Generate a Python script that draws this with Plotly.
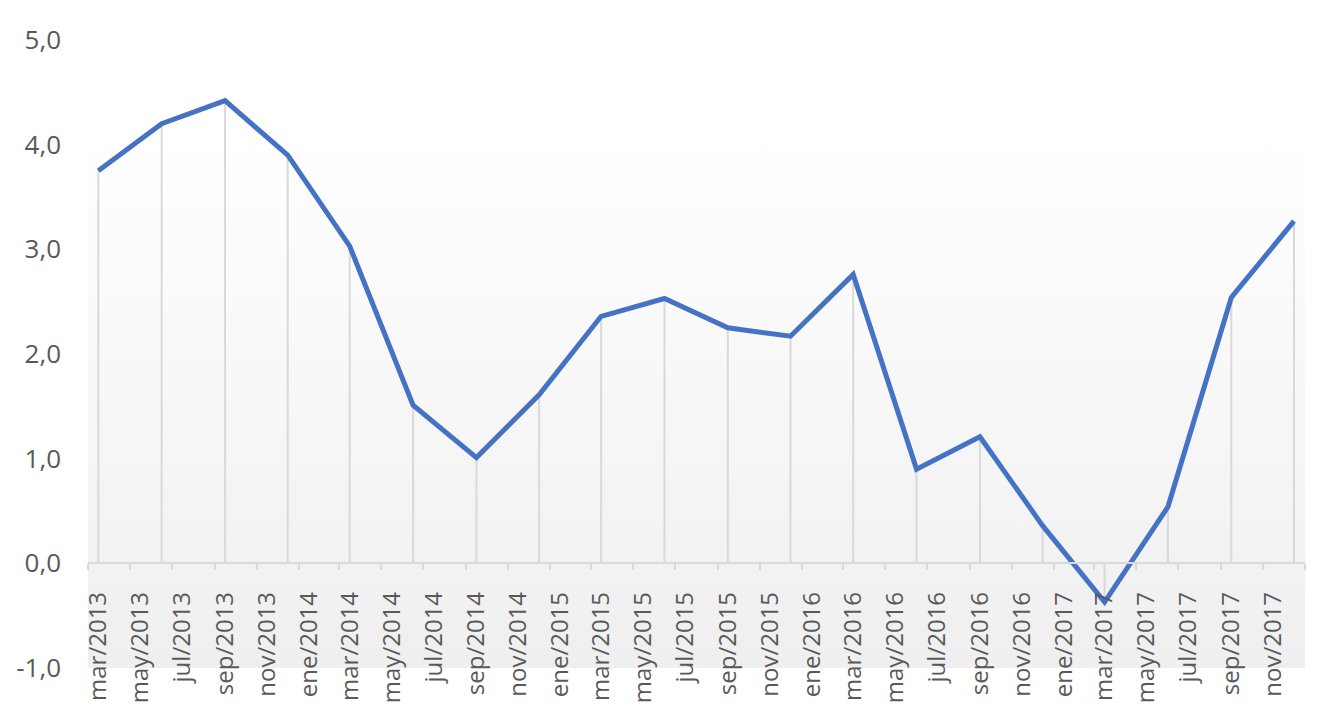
import base64
import pandas as pd
import plotly.graph_objects as go

# quarterly values (end of quarter months)
quarters = ["2013-03", "2013-06", "2013-09", "2013-12",
            "2014-03", "2014-06", "2014-09", "2014-12",
            "2015-03", "2015-06", "2015-09", "2015-12",
            "2016-03", "2016-06", "2016-09", "2016-12",
            "2017-03", "2017-06", "2017-09", "2017-12"]
values = [3.75, 4.20, 4.42, 3.90,
          3.03, 1.51, 1.01, 1.61,
          2.36, 2.53, 2.25, 2.17,
          2.76, 0.90, 1.21, 0.36,
          -0.37, 0.54, 2.54, 3.27]

# bimonthly axis labels
tick_months = ["2013-03", "2013-05", "2013-07", "2013-09", "2013-11",
               "2014-01", "2014-03", "2014-05", "2014-07", "2014-09", "2014-11",
               "2015-01", "2015-03", "2015-05", "2015-07", "2015-09", "2015-11",
               "2016-01", "2016-03", "2016-05", "2016-07", "2016-09", "2016-11",
               "2017-01", "2017-03", "2017-05", "2017-07", "2017-09", "2017-11"]
tick_labels = ["mar/2013", "may/2013", "jul/2013", "sep/2013", "nov/2013",
               "ene/2014", "mar/2014", "may/2014", "jul/2014", "sep/2014", "nov/2014",
               "ene/2015", "mar/2015", "may/2015", "jul/2015", "sep/2015", "nov/2015",
               "ene/2016", "mar/2016", "may/2016", "jul/2016", "sep/2016", "nov/2016",
               "ene/2017", "mar/2017", "may/2017", "jul/2017", "sep/2017", "nov/2017"]
y_ticks = [-1, 0, 1, 2, 3, 4, 5]
y_labels = ["-1,0", "0,0", "1,0", "2,0", "3,0", "4,0", "5,0"]

# excel date axis: each month is a slot, point sits in the middle of it
def mid_month(m):
    return pd.Timestamp(m + "-01") + pd.Timedelta(days=15)

x = [mid_month(q) for q in quarters]
xt = [mid_month(m) for m in tick_months]

up = [-v if v < 0 else 0 for v in values]
down = [v if v > 0 else 0 for v in values]

GRAY = "#d9d9d9"
TXT = "#595959"

fig = go.Figure()
# drop lines
fig.add_trace(go.Scatter(
    x=x, y=values, mode="markers",
    marker=dict(size=0.1, color="rgba(0,0,0,0)"),
    error_y=dict(type="data", symmetric=False, array=up, arrayminus=down,
                 color=GRAY, thickness=2, width=0),
    hoverinfo="skip", showlegend=False
))
fig.add_trace(go.Scatter(
    x=x, y=values, mode="lines",
    line=dict(color="#4472C4", width=5),
    showlegend=False
))

svg = ('<svg xmlns="http://www.w3.org/2000/svg" width="100" height="100" preserveAspectRatio="none">'
       '<defs><linearGradient id="g" x1="0" y1="0" x2="0" y2="1">'
       '<stop offset="0" stop-color="#ffffff"/><stop offset="0.15" stop-color="#ffffff"/>'
       '<stop offset="1" stop-color="#efefef"/>'
       '</linearGradient></defs><rect width="100" height="100" fill="url(#g)"/></svg>')
src = "data:image/svg+xml;base64," + base64.b64encode(svg.encode()).decode()

# the page body adds an 8px offset, margins compensate for it
fig.update_layout(
    width=1336, height=718,
    margin=dict(l=80, r=39, t=32, b=58),
    paper_bgcolor="white", plot_bgcolor="rgba(0,0,0,0)",
    font=dict(family="Open Sans, Segoe UI, sans-serif", color=TXT, size=26),
    images=[dict(source=src, xref="paper", yref="paper", x=0, y=1,
                 sizex=1, sizey=1, sizing="stretch", layer="below",
                 xanchor="left", yanchor="top")],
    xaxis=dict(
        type="date",
        range=["2013-03-01", "2018-01-01"],
        anchor="free", position=1/6, automargin=False,
        tickmode="array", tickvals=xt, ticktext=tick_labels,
        tickangle=-90, ticks="", ticklabelstandoff=18,
        showline=True, linecolor=GRAY, linewidth=2,
        showgrid=False, zeroline=False,
        tickfont=dict(size=24, color=TXT),
        minor=dict(dtick="M2", tick0="2013-01-01", ticks="outside",
                   ticklen=6, tickcolor=GRAY, tickwidth=2, showgrid=False),
    ),
    yaxis=dict(
        range=[-1, 5], automargin=False,
        tickmode="array", tickvals=y_ticks, ticktext=y_labels,
        showgrid=False, zeroline=False, showline=False,
        ticks="", ticklabelstandoff=26,
        tickfont=dict(size=26, color=TXT),
    ),
)

fig.write_html("out.html")
